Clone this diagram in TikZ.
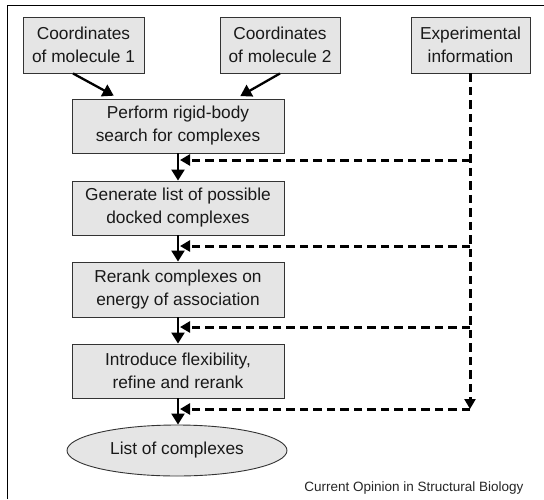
\documentclass[tikz,border=0pt]{standalone}
\usepackage{fontspec}
\setmainfont{Liberation Sans}
\usetikzlibrary{arrows.meta,shapes.geometric}
\begin{document}
\begin{tikzpicture}[x=1pt,y=-1pt,
  box/.style={draw=black!80, line width=0.9pt, fill=black!10, align=center,
    font=\fontsize{17.3}{23}\selectfont, inner sep=0pt, text=black!90},
  flow/.style={line width=2.3pt, -{Triangle[length=11pt,width=13pt]}},
  fb/.style={line width=3pt, dash pattern=on 8.5pt off 5pt, -{Triangle[length=10pt,width=11pt]}}]
\useasboundingbox (0,0) rectangle (544,499);
\draw[line width=1pt] (7,499) -- (7,5) -- (544,5);
% top boxes
\node[box, minimum width=121pt, minimum height=56pt] (m1) at (83.5,45) {Coordinates\\of molecule 1};
\node[box, minimum width=120pt, minimum height=56pt] (m2) at (280,45) {Coordinates\\of molecule 2};
\node[box, minimum width=119pt, minimum height=56pt] (ex) at (470.5,45) {Experimental\\information};
% chain
\node[box, minimum width=212pt, minimum height=54pt] (p) at (178,126) {Perform rigid-body\\search for complexes};
\node[box, minimum width=212pt, minimum height=54pt] (g) at (178,208) {Generate list of possible\\docked complexes};
\node[box, minimum width=212pt, minimum height=55pt] (r) at (178,289.5) {Rerank complexes on\\energy of association};
\node[box, minimum width=212pt, minimum height=54pt] (i) at (178,371) {Introduce flexibility,\\refine and rerank};
\node[box, ellipse, minimum width=220pt, minimum height=51pt] (l) at (177,450.5) {List of complexes};
\node[anchor=base east, font=\fontsize{13.5}{15}\selectfont, text=black!85] (cap) at (527,491) {Current Opinion in Structural Biology};
% input arrows
\draw[flow, shorten >=6pt] ([xshift=-10.5pt]m1.south) -- ([xshift=-59pt]p.north);
\draw[flow, shorten >=5pt] (m2.south) -- ([xshift=58pt]p.north);
% main flow
\draw[flow] (p.south) -- (g.north);
\draw[flow] (g.south) -- (r.north);
\draw[flow] (r.south) -- (i.north);
\draw[flow] (i.south) -- (i.south |- l.north);
% feedback
\coordinate (j1) at (470,160);
\coordinate (j2) at (470,246);
\coordinate (j3) at (470,327);
\coordinate (j4) at (470,409);
\coordinate (t1) at (180,160);
\coordinate (t2) at (180,246);
\coordinate (t3) at (180,327);
\coordinate (t4) at (180,409);
\draw[fb] (ex.south -| j4) -- (j4);
\draw[fb] (j1) -- (t1);
\draw[fb] (j2) -- (t2);
\draw[fb] (j3) -- (t3);
\draw[fb] (j4) -- (t4);
\end{tikzpicture}
\end{document}
